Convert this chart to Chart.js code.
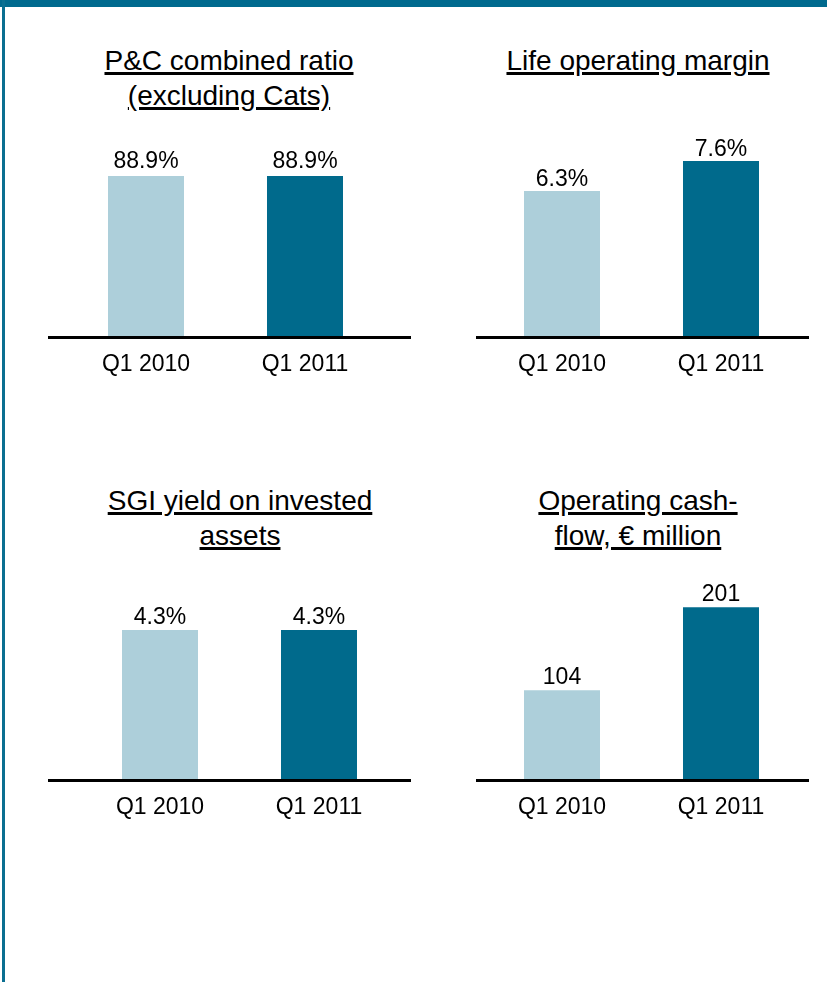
<!DOCTYPE html>
<html>
<head>
<meta charset="utf-8">
<script src="https://cdn.jsdelivr.net/npm/chart.js"></script>
<style>
  html, body { margin: 0; padding: 0; background: #ffffff; }
  body { width: 827px; height: 982px; position: relative; overflow: hidden; font-family: "Liberation Sans", Arial, sans-serif; }
  #topbar { position: absolute; left: 0; top: 0; width: 827px; height: 7px; background: #006a8e; }
  #leftbar { position: absolute; left: 2px; top: 0; width: 3px; height: 982px; background: #0a6f91; }
  .title { position: absolute; width: 400px; text-align: center; font-size: 28px; line-height: 35px; color: #000; }
  .title span { text-decoration: underline; text-decoration-thickness: 3px; text-underline-offset: 2px; }
  canvas { position: absolute; }
</style>
</head>
<body>
<div id="topbar"></div>
<div id="leftbar"></div>
<script>
// ---------- data ----------
const categories = ['Q1 2010', 'Q1 2011'];
const pcCombinedRatio = [88.9, 88.9];
const lifeOperatingMargin = [6.3, 7.6];
const sgiYield = [4.3, 4.3];
const operatingCashFlow = [104, 201];

const titlePC = ['P&C combined ratio', '(excluding Cats)'];
const titleLife = ['Life operating margin'];
const titleSGI = ['SGI yield on invested', 'assets'];
const titleCash = ['Operating cash-', 'flow, \u20AC million'];

// ---------- styles / layout ----------
const colorLight = '#adcfda';
const colorDark = '#006a8c';
const FONT = '"Liberation Sans", Arial, sans-serif';

const panels = [
  { values: pcCombinedRatio, title: titlePC, fmt: v => v.toFixed(1) + '%', yMax: 108.9,
    box: { left: 48, top: 110, width: 363, height: 276 }, pad: { top: 30, left: 18.5, right: 26.5, bottom: 0 },
    labelGap: 8, titleCenter: 229, titleTop: 43 },
  { values: lifeOperatingMargin, title: titleLife, fmt: v => v.toFixed(1) + '%', yMax: 8.51,
    box: { left: 476, top: 110, width: 333, height: 276 }, pad: { top: 30, left: 6.5, right: 8.5, bottom: 0 },
    labelGap: 5, titleCenter: 638, titleTop: 43 },
  { values: sgiYield, title: titleSGI, fmt: v => v.toFixed(1) + '%', yMax: 5.66,
    box: { left: 48, top: 553, width: 363, height: 276 }, pad: { top: 30, left: 32.5, right: 12.5, bottom: 0 },
    labelGap: 6, titleCenter: 240, titleTop: 483 },
  { values: operatingCashFlow, title: titleCash, fmt: v => String(v), yMax: 229.5,
    box: { left: 476, top: 553, width: 333, height: 276 }, pad: { top: 30, left: 6.5, right: 8.5, bottom: 0 },
    labelGap: 6, titleCenter: 638, titleTop: 483 }
];

// plugin: baseline extending across the canvas width
const baselinePlugin = {
  id: 'baseline',
  afterDraw(chart) {
    const ctx = chart.ctx;
    const y = chart.scales.y.getPixelForValue(0);
    ctx.save();
    ctx.strokeStyle = '#000';
    ctx.lineWidth = 3;
    ctx.beginPath();
    ctx.moveTo(0, y + 1.5);
    ctx.lineTo(chart.width, y + 1.5);
    ctx.stroke();
    ctx.restore();
  }
};

// plugin: value labels above bars
const valueLabelPlugin = {
  id: 'valueLabels',
  afterDatasetsDraw(chart, args, opts) {
    const ctx = chart.ctx;
    const meta = chart.getDatasetMeta(0);
    const data = chart.data.datasets[0].data;
    ctx.save();
    ctx.font = '23px ' + FONT;
    ctx.fillStyle = '#000';
    ctx.textAlign = 'center';
    ctx.textBaseline = 'alphabetic';
    meta.data.forEach((bar, i) => {
      ctx.fillText(opts.fmt(data[i]), bar.x, bar.y - opts.gap);
    });
    ctx.restore();
  }
};

panels.forEach((p, idx) => {
  // title
  const t = document.createElement('div');
  t.className = 'title';
  t.style.left = (p.titleCenter - 200) + 'px';
  t.style.top = p.titleTop + 'px';
  p.title.forEach((line, i) => {
    const s = document.createElement('span');
    s.textContent = line;
    t.appendChild(s);
    if (i < p.title.length - 1) t.appendChild(document.createElement('br'));
  });
  document.body.appendChild(t);

  // canvas
  const c = document.createElement('canvas');
  c.width = p.box.width;
  c.height = p.box.height;
  c.style.left = p.box.left + 'px';
  c.style.top = p.box.top + 'px';
  c.style.width = p.box.width + 'px';
  c.style.height = p.box.height + 'px';
  document.body.appendChild(c);

  new Chart(c, {
    type: 'bar',
    data: {
      labels: categories,
      datasets: [{
        data: p.values,
        backgroundColor: [colorLight, colorDark],
        borderWidth: 0,
        categoryPercentage: 1,
        barPercentage: 0.478
      }]
    },
    options: {
      responsive: false,
      animation: false,
      devicePixelRatio: 1,
      layout: { padding: p.pad },
      plugins: {
        legend: { display: false },
        tooltip: { enabled: false },
        title: { display: false },
        valueLabels: { fmt: p.fmt, gap: p.labelGap }
      },
      scales: {
        x: {
          offset: true,
          grid: { display: false, drawTicks: false },
          border: { display: false },
          ticks: { color: '#000', font: { size: 23, family: FONT }, padding: 15, maxRotation: 0, autoSkip: false },
          afterFit(scale) { scale.height = 50; }
        },
        y: { display: false, min: 0, max: p.yMax }
      }
    },
    plugins: [valueLabelPlugin, baselinePlugin]
  });
});
</script>
</body>
</html>
